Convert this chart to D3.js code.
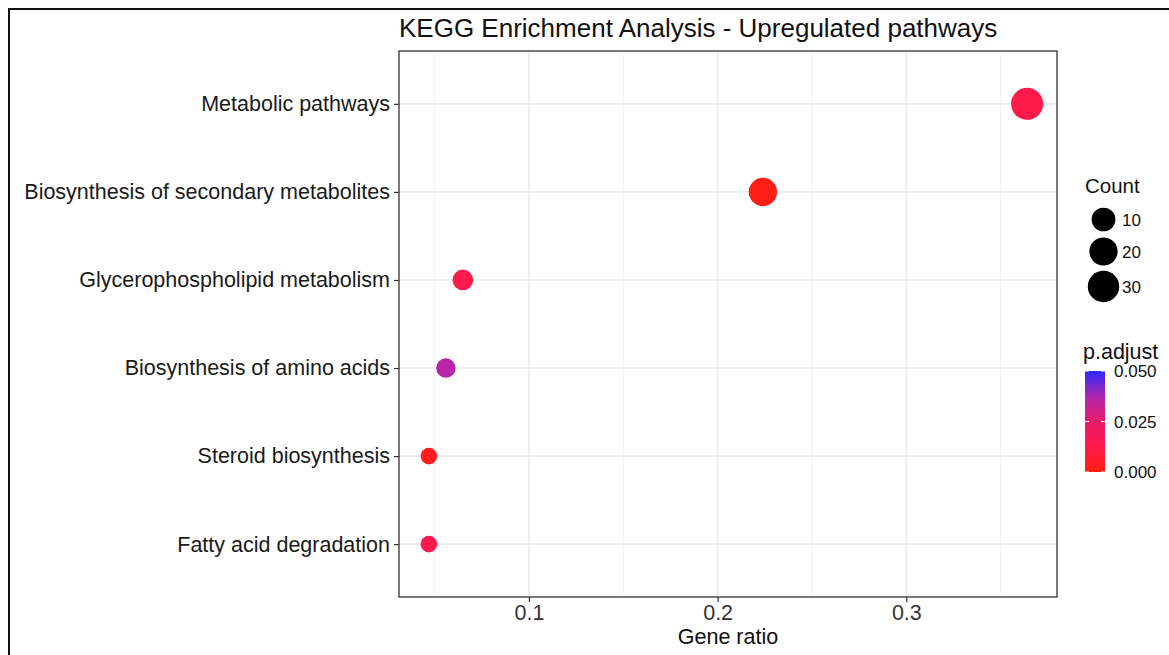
<!DOCTYPE html>
<html>
<head>
<meta charset="utf-8">
<script src="https://cdn.jsdelivr.net/npm/d3@7"></script>
<style>
  html, body { margin: 0; padding: 0; background: #fff; }
  svg { display: block; font-family: "Liberation Sans", Arial, Helvetica, sans-serif; }
</style>
</head>
<body>
<svg id="chart" width="1169" height="655"></svg>
<script>
// KEGG pathways, top to bottom
const pathways = [
  "Metabolic pathways",
  "Biosynthesis of secondary metabolites",
  "Glycerophospholipid metabolism",
  "Biosynthesis of amino acids",
  "Steroid biosynthesis",
  "Fatty acid degradation"
];
const geneRatio = [0.364, 0.224, 0.065, 0.056, 0.047, 0.047];
const geneCount = [32, 20, 6, 5, 4, 4];
const pAdjust = [0.012, 0.001, 0.013, 0.036, 0.003, 0.014];

const xTicks = [0.1, 0.2, 0.3];
const xMinorTicks = [0.05, 0.15, 0.25, 0.35];
const sizeBreaks = [10, 20, 30];
const colorBreaks = [0.000, 0.025, 0.050];
const colorStops = [0.000, 0.0125, 0.025, 0.0375, 0.050];
const colorStopValues = ["#ff1e0e", "#ff1a4c", "#e81a6a", "#b126b0", "#2a2aff"];

const title = "KEGG Enrichment Analysis - Upregulated pathways";
const xTitle = "Gene ratio";

const svg = d3.select("#chart");
const W = 1169, H = 655;
const panel = { left: 399, right: 1057, top: 51, bottom: 597 };
const FONT = "Liberation Sans, Arial, sans-serif";

// outer frame (only its top and left edges fall inside the canvas)
svg.append("rect")
  .attr("x", 9).attr("y", 9).attr("width", W + 20).attr("height", H + 20)
  .attr("fill", "none").attr("stroke", "#111").attr("stroke-width", 2);

// scales
const [gMin, gMax] = d3.extent(geneRatio);
const xPad = (gMax - gMin) * 0.05;
const x = d3.scaleLinear()
  .domain([gMin - xPad, gMax + xPad])
  .range([panel.left, panel.right]);

const y = d3.scalePoint()
  .domain(pathways)
  .range([panel.top, panel.bottom])
  .padding(0.6);

const countNorm = d3.scaleLinear().domain(d3.extent(geneCount)).range([0, 1]);
const radius = d3.scaleSqrt().domain([0, 1]).range([8.3, 16]);
const r = c => radius(countNorm(c));

const color = d3.scaleLinear().domain(colorStops).range(colorStopValues)
  .interpolate(d3.interpolateRgb).clamp(true);

// grid
const grid = svg.append("g");
grid.selectAll("line.minor")
  .data(xMinorTicks.filter(v => x(v) > panel.left && x(v) < panel.right))
  .join("line")
  .attr("x1", d => x(d)).attr("x2", d => x(d))
  .attr("y1", panel.top).attr("y2", panel.bottom)
  .attr("stroke", "#f0f0f0").attr("stroke-width", 1);
grid.selectAll("line.vmajor")
  .data(xTicks)
  .join("line")
  .attr("x1", d => x(d)).attr("x2", d => x(d))
  .attr("y1", panel.top).attr("y2", panel.bottom)
  .attr("stroke", "#ebebeb").attr("stroke-width", 1.6);
grid.selectAll("line.hmajor")
  .data(pathways)
  .join("line")
  .attr("x1", panel.left).attr("x2", panel.right)
  .attr("y1", d => y(d)).attr("y2", d => y(d))
  .attr("stroke", "#ebebeb").attr("stroke-width", 1.6);

// points
const rows = pathways.map((p, i) => ({
  name: p, ratio: geneRatio[i], count: geneCount[i], p: pAdjust[i]
}));
svg.append("g").selectAll("circle")
  .data(rows)
  .join("circle")
  .attr("cx", d => x(d.ratio))
  .attr("cy", d => y(d.name))
  .attr("r", d => r(d.count))
  .attr("fill", d => color(d.p));

// panel border
svg.append("rect")
  .attr("x", panel.left).attr("y", panel.top)
  .attr("width", panel.right - panel.left).attr("height", panel.bottom - panel.top)
  .attr("fill", "none").attr("stroke", "#333").attr("stroke-width", 1.3);

// axes
const xAxis = svg.append("g")
  .attr("transform", `translate(0,${panel.bottom})`)
  .call(d3.axisBottom(x).tickValues(xTicks).tickFormat(d3.format(".1f")).tickSize(5).tickPadding(3));
xAxis.select(".domain").remove();
xAxis.selectAll(".tick line").attr("stroke", "#333").attr("stroke-width", 1.2);
xAxis.selectAll(".tick text").attr("fill", "#333").attr("font-size", 21.5)
  .attr("font-family", FONT);

const yAxis = svg.append("g")
  .attr("transform", `translate(${panel.left},0)`)
  .call(d3.axisLeft(y).tickSize(5).tickPadding(4));
yAxis.select(".domain").remove();
yAxis.selectAll(".tick line").attr("stroke", "#333").attr("stroke-width", 1.2);
yAxis.selectAll(".tick text").attr("fill", "#1a1a1a").attr("font-size", 21.5)
  .attr("font-family", FONT);

// titles
svg.append("text")
  .attr("x", panel.left).attr("y", 37)
  .attr("font-size", 26).attr("fill", "#111")
  .text(title);

svg.append("text")
  .attr("x", (panel.left + panel.right) / 2).attr("y", 644)
  .attr("text-anchor", "middle")
  .attr("font-size", 21.5).attr("fill", "#111")
  .text(xTitle);

// size legend
const lg = svg.append("g");
lg.append("text").attr("x", 1085).attr("y", 193)
  .attr("font-size", 20.5).attr("fill", "#111").text("Count");
const sizeY = [219.5, 251.5, 286.5];
lg.selectAll("circle")
  .data(sizeBreaks)
  .join("circle")
  .attr("cx", 1103.5)
  .attr("cy", (d, i) => sizeY[i])
  .attr("r", d => r(d))
  .attr("fill", "#000");
lg.selectAll("text.lab")
  .data(sizeBreaks)
  .join("text")
  .attr("class", "lab")
  .attr("x", 1122)
  .attr("y", (d, i) => sizeY[i] + 6)
  .attr("font-size", 17).attr("fill", "#111")
  .text(d => d);

// colour legend
const cbar = { x: 1085, y: 371, w: 20, h: 101 };
lg.append("text").attr("x", 1083).attr("y", 359)
  .attr("font-size", 21.5).attr("fill", "#111").text("p.adjust");

const defs = svg.append("defs");
const grad = defs.append("linearGradient")
  .attr("id", "pgrad").attr("x1", 0).attr("y1", 1).attr("x2", 0).attr("y2", 0);
const cScale = d3.scaleLinear().domain(d3.extent(colorBreaks)).range([cbar.y + cbar.h, cbar.y]);
d3.range(0, 1.0001, 0.05).forEach(t => {
  const v = colorBreaks[0] + t * (colorBreaks[2] - colorBreaks[0]);
  grad.append("stop").attr("offset", t).attr("stop-color", color(v));
});
lg.append("rect")
  .attr("x", cbar.x).attr("y", cbar.y).attr("width", cbar.w).attr("height", cbar.h)
  .attr("fill", "url(#pgrad)");
colorBreaks.forEach(v => {
  const yy = cScale(v);
  lg.append("line").attr("x1", cbar.x).attr("x2", cbar.x + 4).attr("y1", yy).attr("y2", yy)
    .attr("stroke", "#fff").attr("stroke-width", 1);
  lg.append("line").attr("x1", cbar.x + cbar.w - 4).attr("x2", cbar.x + cbar.w).attr("y1", yy).attr("y2", yy)
    .attr("stroke", "#fff").attr("stroke-width", 1);
  lg.append("text").attr("x", 1114).attr("y", yy + 6)
    .attr("font-size", 17).attr("fill", "#111")
    .text(d3.format(".3f")(v));
});
</script>
</body>
</html>
